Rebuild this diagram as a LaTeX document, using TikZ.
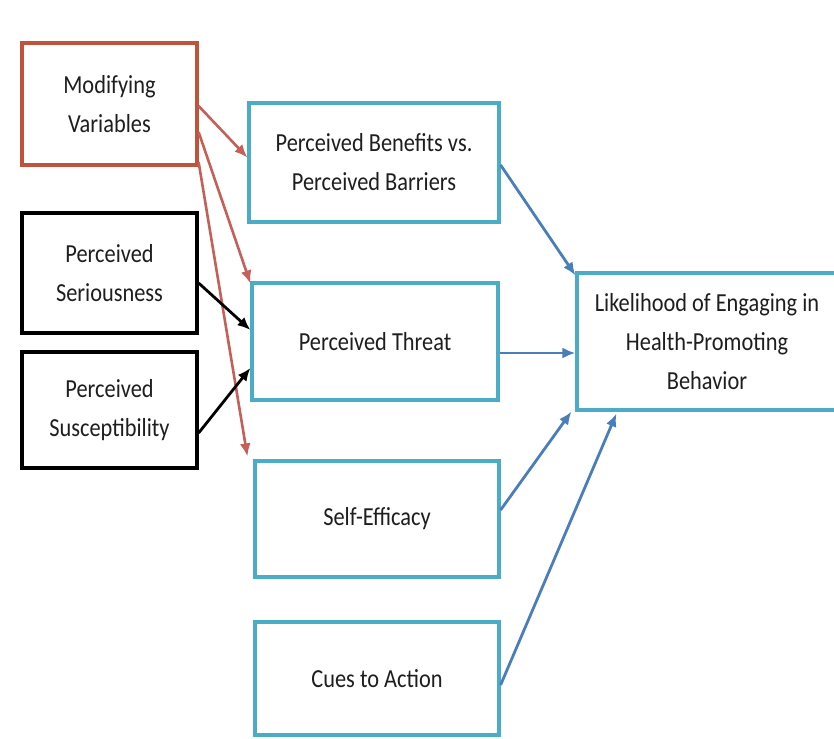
\documentclass[tikz,border=0pt]{standalone}
\usepackage{fontspec}
\setmainfont{Carlito}[FakeStretch=0.86]
\usetikzlibrary{math,arrows.meta}
\definecolor{modred}{RGB}{192,84,58}
\definecolor{arrred}{RGB}{196,96,88}
\definecolor{boxteal}{RGB}{75,172,198}
\definecolor{arrblue}{RGB}{74,126,187}
\definecolor{txtgray}{RGB}{30,30,30}

\begin{document}
\begin{tikzpicture}[x=1pt,y=-1pt,
    box/.style={draw=boxteal, line width=3.2pt, fill=white, align=center, inner sep=0pt,
      text=txtgray, font=\fontsize{26}{39}\selectfont},
    redarr/.style={-{Latex[length=13pt,width=11pt]}, draw=arrred, line width=2.6pt},
    bluearr/.style={-{Latex[length=13pt,width=11pt]}, draw=arrblue, line width=2.8pt},
    blkarr/.style={-{Latex[length=13pt,width=11pt]}, draw=black, line width=2.8pt}]
      \tikzmath{\lx = 109.5; \lw = 175; \mw = 246;}
      \useasboundingbox[fill=white] (0,0) rectangle (834,738);
      \node[box, draw=modred, minimum width=\lw pt, minimum height=122pt] (modvar) at (\lx,104) {Modifying\\Variables};
      \node[box, draw=black, minimum width=\lw pt, minimum height=120pt] (serious) at (\lx,273) {Perceived\\Seriousness};
      \node[box, draw=black, minimum width=\lw pt, minimum height=116pt] (suscept) at (\lx,410) {Perceived\\Susceptibility};
      \node[box, minimum width=250pt, minimum height=119pt] (benefits) at (374,162.5) {Perceived Benefits vs.\\Perceived Barriers};
      \node[box, minimum width=\mw pt, minimum height=117pt] (threat) at (375,341.5) {Perceived Threat};
      \node[box, minimum width=244pt, minimum height=116pt] (efficacy) at (377,519) {Self-Efficacy};
      \node[box, minimum width=244pt, minimum height=113pt] (cues) at (377,678.5) {Cues to Action};
      \node[box, minimum width=260pt, minimum height=137pt] (likely) at (707,341.5) {Likelihood of Engaging in\\Health-Promoting\\Behavior};
      \draw[redarr] ([yshift=-2pt]modvar.east) -- ([yshift=5pt]benefits.west);
      \draw[redarr] ([yshift=-28pt]modvar.east) -- ([yshift=-2pt]threat.north west);
      \draw[redarr] ([yshift=-58pt]modvar.east) -- ([xshift=-6pt,yshift=3pt]efficacy.north west);
      \draw[blkarr] ([yshift=-10pt]serious.east) -- ([yshift=11.5pt]threat.west);
      \draw[blkarr] ([yshift=-23pt]suscept.east) -- ([yshift=-26.5pt]threat.west);
      \draw[bluearr] ([yshift=-2.5pt]benefits.east) -- ([yshift=-4pt]likely.north west);
      \draw[bluearr] ([yshift=-11.5pt]threat.east) -- ([yshift=-11.5pt]likely.west);
      \draw[bluearr] ([yshift=9pt]efficacy.east) -- ([xshift=-4pt]likely.south west);
      \draw[bluearr] ([yshift=-6.5pt]cues.east) -- ([xshift=41pt,yshift=-2pt]likely.south west);
    \end{tikzpicture}
\end{document}
